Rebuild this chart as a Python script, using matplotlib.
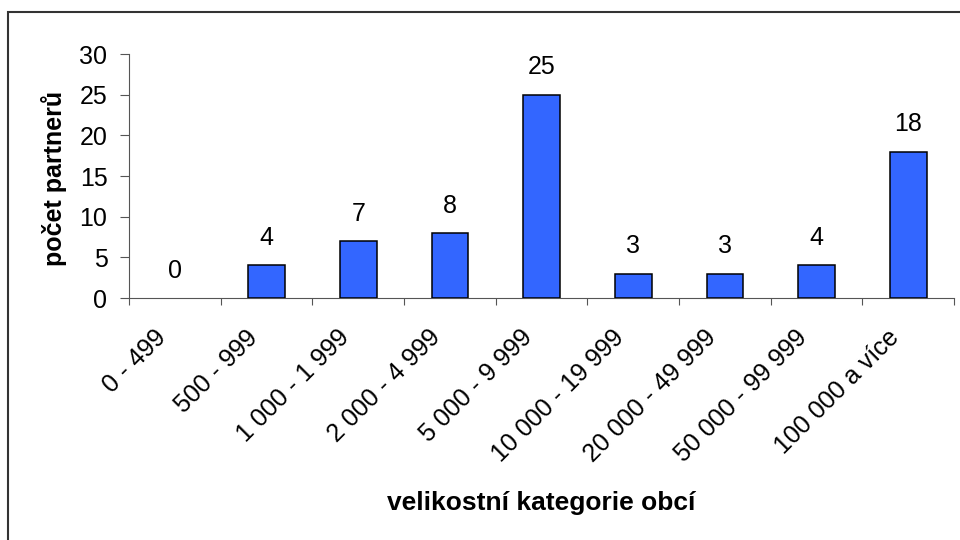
import matplotlib
matplotlib.use("Agg")
import matplotlib.pyplot as plt
import matplotlib.transforms as mtransforms
from matplotlib.patches import Rectangle

# data
categories = ["0 - 499", "500 - 999", "1 000 - 1 999", "2 000 - 4 999", "5 000 - 9 999",
              "10 000 - 19 999", "20 000 - 49 999", "50 000 - 99 999", "100 000 a více"]
partners = [0, 4, 7, 8, 25, 3, 3, 4, 18]
y_ticks = [0, 5, 10, 15, 20, 25, 30]

plt.rcParams["font.family"] = ["Liberation Sans", "DejaVu Sans"]

fig = plt.figure(figsize=(9.6, 5.4), dpi=100)
ax = fig.add_axes([0.1344, 0.4481, 0.8594, 0.4519])

x = list(range(len(categories)))
bars = ax.bar(x, partners, width=0.4, color="#3366FF", edgecolor="black", linewidth=1.1, zorder=3)
# an empty category shows no bar outline
for b, v in zip(bars, partners):
    if v == 0:
        b.set_linewidth(0)

for xi, v in zip(x, partners):
    ax.annotate(str(v), (xi, v), xytext=(0, 11), textcoords="offset points",
                ha="center", va="bottom", fontsize=18)

ax.set_xlim(-0.5, len(categories) - 0.5)
ax.set_ylim(0, 30)
ax.set_yticks(y_ticks)
ax.tick_params(axis="y", labelsize=18, length=6.5, width=0.8, color="#555555", pad=9)

# category boundaries carry the tick marks, labels sit at the centres
ax.set_xticks([i - 0.5 for i in range(len(categories) + 1)])
ax.set_xticklabels([])
ax.tick_params(axis="x", which="major", length=5, width=0.8, color="#555555")
ax.set_xticks(x, minor=True)
ax.set_xticklabels(categories, minor=True, rotation=45, ha="right", va="center",
                   rotation_mode="anchor", fontsize=18)
ax.tick_params(axis="x", which="minor", length=0, pad=33)
shift = mtransforms.ScaledTranslation(-0.13, 0.10, fig.dpi_scale_trans)
for lbl in ax.get_xticklabels(minor=True):
    lbl.set_transform(lbl.get_transform() + shift)

for s in ["top", "right"]:
    ax.spines[s].set_visible(False)
for s in ["left", "bottom"]:
    ax.spines[s].set_color("#555555")
    ax.spines[s].set_linewidth(0.8)

ax.set_ylabel("počet partnerů", fontsize=18, fontweight="bold")
ax.yaxis.set_label_coords(-0.075, 0.49)
ax.set_xlabel("velikostní kategorie obcí", fontsize=19, fontweight="bold")
ax.xaxis.set_label_coords(0.5, -0.792)

fig.patches.append(Rectangle((8 / 960, -0.1), 1.2, 1 - 12 / 540 + 0.1, transform=fig.transFigure,
                             fill=False, edgecolor="#333333", linewidth=1.5))

fig.savefig("out.png", dpi=100, facecolor="white")
